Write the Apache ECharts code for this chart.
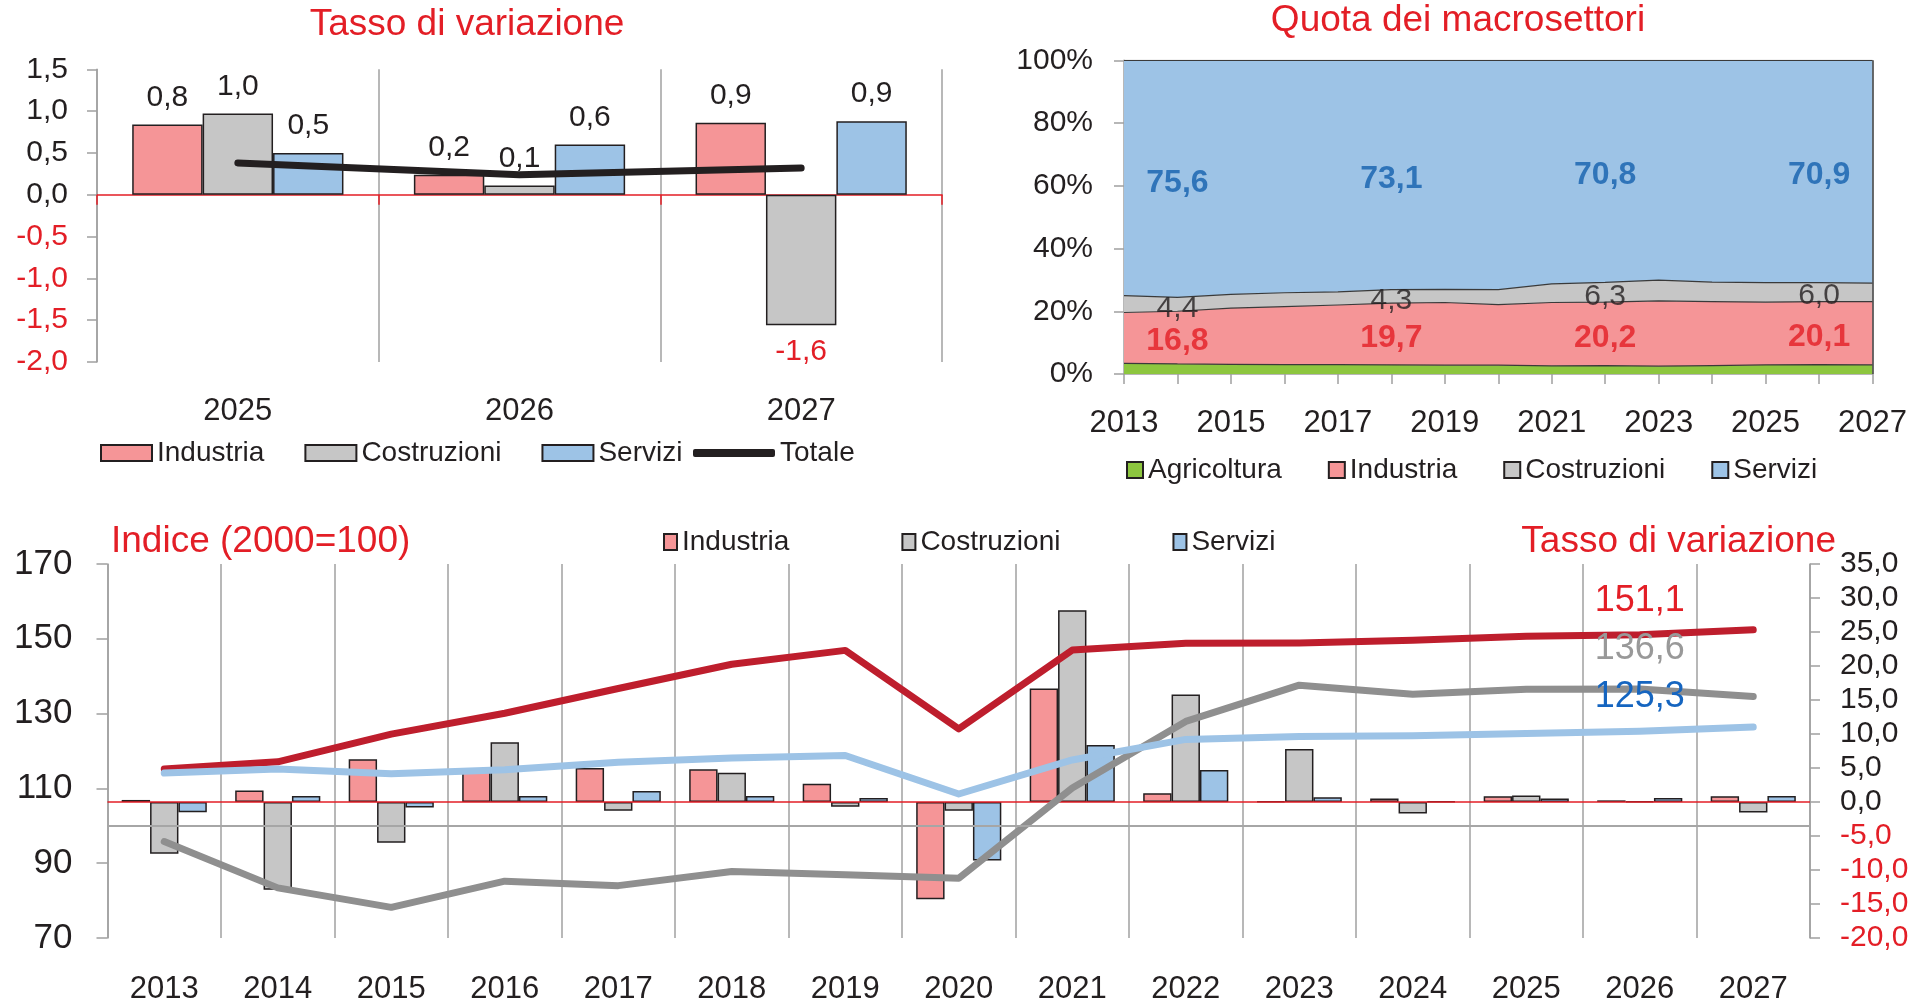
<!DOCTYPE html>
<html>
<head>
<meta charset="utf-8">
<script src="https://cdn.jsdelivr.net/npm/echarts@6/dist/echarts.min.js"></script>
<style>
html,body{margin:0;padding:0;background:#fff;}
#c{width:1924px;height:1001px;}
</style>
</head>
<body>
<div id="c"></div>
<script>
// ---------- DATA ----------
// Top-left: Tasso di variazione 2025-2027
const tlCats = ['2025', '2026', '2027'];
const tlInd = [0.84, 0.24, 0.86];
const tlCos = [0.97, 0.11, -1.56];
const tlSer = [0.50, 0.60, 0.88];
const tlTot = [0.38, 0.24, 0.32];

// Top-right: Quota dei macrosettori (%)
const years = ['2013','2014','2015','2016','2017','2018','2019','2020','2021','2022','2023','2024','2025','2026','2027'];
const shAgr = [3.4, 3.2, 3.1, 3.0, 3.0, 2.9, 2.8, 2.8, 2.6, 2.7, 2.5, 2.7, 2.9, 3.0, 2.9];
const shInd = [16.2, 16.8, 17.9, 18.5, 19.0, 19.7, 20.0, 19.3, 20.2, 20.2, 20.8, 20.4, 20.0, 20.1, 20.2];
const shCos = [5.4, 4.4, 4.4, 4.4, 4.2, 4.3, 4.2, 4.8, 5.9, 6.3, 6.6, 6.2, 6.2, 6.0, 5.9];
const shSer = [75.0, 75.6, 74.6, 74.1, 73.8, 73.1, 73.0, 73.1, 71.3, 70.8, 70.1, 70.7, 70.9, 70.9, 71.0];
const shLabelIdx = [1, 5, 9, 13];

// Bottom: tassi di variazione (bars, right axis) and indici 2000=100 (lines, left axis)
const vInd = [0.3, 1.7, 6.3, 4.8, 5.0, 4.8, 2.7, -14.3, 16.7, 1.3, 0.1, 0.5, 0.84, 0.24, 0.86];
const vCos = [-7.6, -12.9, -6.0, 8.8, -1.3, 4.3, -0.7, -1.3, 28.2, 15.8, 7.8, -1.7, 0.97, 0.11, -1.56];
const vSer = [-1.5, 0.9, -0.8, 0.9, 1.6, 0.9, 0.6, -8.6, 8.4, 4.7, 0.7, 0.1, 0.50, 0.60, 0.88];
const idxInd = [115.2, 117.1, 124.5, 130.1, 136.7, 143.2, 146.9, 125.9, 147.0, 148.8, 148.9, 149.6, 150.7, 151.1, 152.4];
const idxCos = [95.8, 83.4, 78.2, 85.2, 84.0, 87.8, 86.9, 86.0, 110.1, 127.9, 137.6, 135.2, 136.5, 136.6, 134.6];
const idxSer = [114.1, 115.2, 113.9, 115.0, 117.0, 118.1, 118.8, 108.5, 117.6, 123.1, 123.9, 124.1, 124.7, 125.3, 126.4];
const idxLabelIdx = 13;
const leftTicks = [70, 90, 110, 130, 150, 170];

// ---------- STYLE ----------
const FONT = '"Liberation Sans", Arial, sans-serif';
const TXT = '#231F20';
const RED = '#E31E26';
const C_IND = '#F59597';
const C_COS = '#C6C6C6';
const C_SER = '#9DC3E6';
const C_AGR = '#8DC63F';
const BORDER = '#231F20';
const AXIS = '#A0A0A0';
const CLEAR = 'rgba(0,0,0,0)';
const fmt = v => v.toFixed(1).replace('.', ',');
const negRed = v => (Number(v) < 0 ? RED : TXT);

const chart = echarts.init(document.getElementById('c'), null, {renderer: 'canvas'});

function tlBar(name, vals, color) {
  return {
    type: 'bar', name: name, xAxisIndex: 0, yAxisIndex: 0,
    barGap: '0%', barCategoryGap: '25%',
    itemStyle: {color: color, borderColor: BORDER, borderWidth: 1.5},
    label: {show: true, position: 'top', distance: 12, fontSize: 30, fontFamily: FONT, color: TXT, formatter: p => fmt(p.value)},
    data: vals.map(v => v < 0 ? {value: v, label: {position: 'bottom', color: RED}} : v),
    z: 2
  };
}
function trArea(name, vals, color) {
  return {
    type: 'line', name: name, xAxisIndex: 2, yAxisIndex: 1, stack: 'q',
    symbol: 'none', smooth: false,
    lineStyle: {color: '#3A3A3A', width: 1.2},
    itemStyle: {color: color, borderColor: BORDER, borderWidth: 1},
    areaStyle: {color: color, opacity: 1},
    data: vals, z: 2
  };
}
function trLabels(vals, base, color, bold) {
  return {
    type: 'scatter', xAxisIndex: 2, yAxisIndex: 1, silent: true,
    symbol: 'circle', symbolSize: 2, itemStyle: {color: CLEAR},
    label: {show: true, position: 'inside', offset: [0, 4], fontSize: bold ? 32 : 30, fontFamily: FONT,
      fontWeight: bold ? 'bold' : 'normal', color: color,
      formatter: p => fmt(p.data.lbl)},
    data: shLabelIdx.map(i => ({value: [i, base(i) + vals[i] / 2], lbl: vals[i]})),
    z: 5
  };
}
function bBar(name, vals, color) {
  return {
    type: 'bar', name: name, xAxisIndex: 3, yAxisIndex: 3,
    barGap: '0%', barCategoryGap: '25%',
    itemStyle: {color: color, borderColor: BORDER, borderWidth: 1.5},
    data: vals, z: 2
  };
}
function bLine(name, vals, color, lblColor, dist) {
  return {
    type: 'line', name: name, xAxisIndex: 3, yAxisIndex: 2,
    symbol: 'circle', symbolSize: 2, showSymbol: true, smooth: false,
    lineStyle: {color: color, width: 7, cap: 'round', join: 'round'},
    itemStyle: {color: CLEAR},
    data: vals.map((v, i) => i === idxLabelIdx
      ? {value: v, label: {show: true, position: 'top', distance: dist, fontSize: 36, fontFamily: FONT, color: lblColor, formatter: p => fmt(p.value)}}
      : v),
    z: 4
  };
}

const option = {
  backgroundColor: '#fff',
  animation: false,
  textStyle: {fontFamily: FONT, color: TXT},
  title: [
    {text: 'Tasso di variazione', left: 467, top: 6, textAlign: 'center', padding: 0,
      textStyle: {color: RED, fontSize: 37, fontWeight: 'normal', fontFamily: FONT}},
    {text: 'Quota dei macrosettori', left: 1458, top: 2, textAlign: 'center', padding: 0,
      textStyle: {color: RED, fontSize: 37, fontWeight: 'normal', fontFamily: FONT}},
    {text: 'Indice (2000=100)', left: 111, top: 523, textAlign: 'left', padding: 0,
      textStyle: {color: RED, fontSize: 37, fontWeight: 'normal', fontFamily: FONT}},
    {text: 'Tasso di variazione', left: 1836, top: 523, textAlign: 'right', padding: 0,
      textStyle: {color: RED, fontSize: 37, fontWeight: 'normal', fontFamily: FONT}}
  ],
  legend: [
    {data: ['Industria', 'Costruzioni', 'Servizi'], left: 100, top: 439, padding: 0, icon: 'rect',
      itemWidth: 51, itemHeight: 16, itemGap: 40, selectedMode: false,
      textStyle: {fontSize: 28, fontFamily: FONT, color: TXT}},
    {data: [{name: 'Totale', icon: 'roundRect'}], left: 693, top: 439, padding: 0, itemWidth: 82, itemHeight: 8, selectedMode: false,
      textStyle: {fontSize: 28, fontFamily: FONT, color: TXT}},
    {data: ['Agricoltura', 'Industria', 'Costruzioni', 'Servizi'], left: 1126, top: 456, padding: 0, icon: 'rect',
      itemWidth: 16, itemHeight: 16, itemGap: 46, selectedMode: false,
      textStyle: {fontSize: 28, fontFamily: FONT, color: TXT}},
    {data: ['Industria', 'Costruzioni', 'Servizi'], left: 663, top: 528, padding: 0, icon: 'rect',
      itemWidth: 13, itemHeight: 16, itemGap: 112, selectedMode: false,
      textStyle: {fontSize: 28, fontFamily: FONT, color: TXT}}
  ],
  grid: [
    {left: 97, top: 69.3, width: 845, height: 292.7, outerBoundsMode: 'none', containLabel: false},
    {left: 1124, top: 60.3, width: 748.5, height: 313.7, outerBoundsMode: 'none', containLabel: false},
    {left: 107.5, top: 564, width: 1702.5, height: 374, outerBoundsMode: 'none', containLabel: false}
  ],
  xAxis: [
    {gridIndex: 0, type: 'category', data: tlCats, position: 'bottom',
      axisLine: {show: false, onZero: false}, axisTick: {show: false},
      axisLabel: {fontSize: 31, fontFamily: FONT, color: TXT, margin: 34},
      splitLine: {show: true, interval: 0, lineStyle: {color: AXIS, width: 1.5}}},
    {gridIndex: 0, type: 'category', data: tlCats, position: 'bottom',
      axisLine: {show: true, onZero: true, lineStyle: {color: RED, width: 1.5}},
      axisTick: {show: true, inside: false, length: 10, interval: 0, lineStyle: {color: RED, width: 1.5}},
      axisLabel: {show: false}, splitLine: {show: false}},
    {gridIndex: 1, type: 'category', data: years, boundaryGap: false,
      axisLine: {show: true, onZero: false, lineStyle: {color: AXIS, width: 1.5}},
      axisTick: {show: true, length: 10, interval: 0, lineStyle: {color: AXIS, width: 1.5}},
      axisLabel: {interval: 1, fontSize: 31, fontFamily: FONT, color: TXT, margin: 34},
      splitLine: {show: false}},
    {gridIndex: 2, type: 'category', data: years, position: 'bottom',
      axisLine: {show: false, onZero: false}, axisTick: {show: false},
      axisLabel: {fontSize: 31, fontFamily: FONT, color: TXT, margin: 36},
      splitLine: {show: true, interval: 0, lineStyle: {color: AXIS, width: 1.5}}}
  ],
  yAxis: [
    {gridIndex: 0, type: 'value', min: -2, max: 1.5, interval: 0.5,
      axisLine: {show: true, lineStyle: {color: AXIS, width: 1.5}},
      axisTick: {show: true, length: 10, lineStyle: {color: AXIS, width: 1.5}},
      axisLabel: {fontSize: 30, fontFamily: FONT, margin: 29, color: negRed, formatter: v => fmt(v)},
      splitLine: {show: false}},
    {gridIndex: 1, type: 'value', min: 0, max: 100, interval: 20,
      axisLine: {show: true, lineStyle: {color: AXIS, width: 1.5}},
      axisTick: {show: true, length: 10, lineStyle: {color: AXIS, width: 1.5}},
      axisLabel: {fontSize: 30, fontFamily: FONT, margin: 31, color: TXT, formatter: v => v + '%'},
      splitLine: {show: false}},
    {gridIndex: 2, type: 'value', position: 'left', min: 70, max: 170,
      axisLine: {show: true, lineStyle: {color: AXIS, width: 1.5}},
      axisTick: {show: true, length: 11, customValues: leftTicks, lineStyle: {color: AXIS, width: 1.5}},
      axisLabel: {fontSize: 35, fontFamily: FONT, margin: 35, color: TXT, customValues: leftTicks},
      splitLine: {show: false}},
    {gridIndex: 2, type: 'value', position: 'right', min: -20, max: 35, interval: 5,
      axisLine: {show: true, lineStyle: {color: AXIS, width: 1.5}},
      axisTick: {show: true, length: 10, lineStyle: {color: AXIS, width: 1.5}},
      axisLabel: {fontSize: 30, fontFamily: FONT, margin: 30, color: negRed, formatter: v => fmt(v)},
      splitLine: {show: false}}
  ],
  series: [
    tlBar('Industria', tlInd, C_IND),
    tlBar('Costruzioni', tlCos, C_COS),
    tlBar('Servizi', tlSer, C_SER),
    {type: 'line', name: 'Totale', xAxisIndex: 0, yAxisIndex: 0, symbol: 'none',
      lineStyle: {color: TXT, width: 7, cap: 'round'}, itemStyle: {color: TXT}, data: tlTot, z: 4},

    trArea('Agricoltura', shAgr, C_AGR),
    trArea('Industria', shInd, C_IND),
    trArea('Costruzioni', shCos, C_COS),
    Object.assign(trArea('Servizi', shSer, C_SER), {
      markLine: {silent: true, symbol: 'none', label: {show: false},
        lineStyle: {color: '#3A3A3A', width: 1.5, type: 'solid'}, data: [{xAxis: years.length - 1}]}
    }),
    trLabels(shInd, i => shAgr[i], RED, true),
    trLabels(shCos, i => shAgr[i] + shInd[i], TXT, false),
    trLabels(shSer, i => shAgr[i] + shInd[i] + shCos[i], '#1460AE', true),

    Object.assign(bBar('Industria', vInd, C_IND), {
      markLine: {silent: true, symbol: 'none', label: {show: false}, z: 3,
        lineStyle: {color: RED, width: 1.5, type: 'solid'}, data: [{yAxis: 0}]}
    }),
    bBar('Costruzioni', vCos, C_COS),
    bBar('Servizi', vSer, C_SER),
    Object.assign(bLine('Industria (indice)', idxInd, '#BE1E2D', RED, 15), {
      markLine: {silent: true, symbol: 'none', label: {show: false},
        lineStyle: {color: '#A6A6A6', width: 2, type: 'solid'}, data: [{yAxis: 100}]}
    }),
    bLine('Costruzioni (indice)', idxCos, '#8F8F8F', '#999999', 21),
    bLine('Servizi (indice)', idxSer, C_SER, '#1565C0', 15)
  ]
};
chart.setOption(option);
</script>
</body>
</html>
